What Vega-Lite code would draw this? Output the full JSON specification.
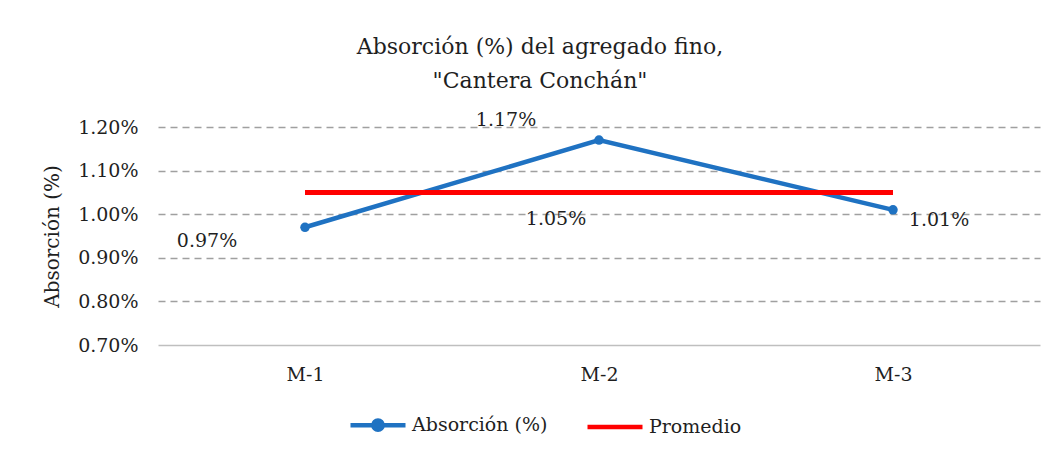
{
  "$schema": "https://vega.github.io/schema/vega-lite/v6.json",
  "autosize": {"type": "none"},
  "width": 882,
  "height": 218,
  "padding": {"left": 158, "top": 127, "right": 20, "bottom": 112},
  "background": "white",
  "config": {
    "font": "DejaVu Serif",
    "view": {"stroke": null},
    "text": {"font": "DejaVu Serif", "fontSize": 19, "color": "#1f1f1f"}
  },
  "title": {
    "text": ["Absorción (%) del agregado fino,", "\"Cantera Conchán\""],
    "font": "DejaVu Serif",
    "fontSize": 22,
    "fontWeight": "normal",
    "color": "#1f1f1f",
    "anchor": "middle",
    "dx": -59,
    "offset": 18,
    "lineHeight": 34
  },
  "data": {
    "values": [
      {"muestra": "M-1", "serie": "Absorción (%)", "valor": 0.0097},
      {"muestra": "M-2", "serie": "Absorción (%)", "valor": 0.0117},
      {"muestra": "M-3", "serie": "Absorción (%)", "valor": 0.0101},
      {"muestra": "M-1", "serie": "Promedio", "valor": 0.0105},
      {"muestra": "M-2", "serie": "Promedio", "valor": 0.0105},
      {"muestra": "M-3", "serie": "Promedio", "valor": 0.0105}
    ]
  },
  "encoding": {
    "x": {
      "field": "muestra", "type": "nominal",
      "scale": {"type": "point", "padding": 0.5},
      "axis": {
        "title": null, "labelAngle": 0, "ticks": false,
        "labelFont": "DejaVu Serif", "labelFontSize": 19, "labelColor": "#1f1f1f",
        "labelPadding": 20, "domainColor": "#bfbfbf", "domainWidth": 1.3
      }
    },
    "y": {
      "field": "valor", "type": "quantitative",
      "scale": {"domain": [0.007, 0.012], "nice": false, "zero": false},
      "axis": {
        "title": "Absorción (%)",
        "values": [0.007, 0.008, 0.009, 0.010, 0.011, 0.012],
        "format": ".2%",
        "ticks": false, "domain": false,
        "labelFont": "DejaVu Serif", "labelFontSize": 19, "labelColor": "#1f1f1f",
        "labelPadding": 20,
        "titleFont": "DejaVu Serif", "titleFontSize": 20, "titleFontWeight": "normal",
        "titleColor": "#1f1f1f", "titlePadding": 15,
        "gridColor": "#a0a0a0", "gridWidth": 1.3,
        "gridDash": {"condition": {"test": "datum.value <= 0.007", "value": []}, "value": [7, 5]},
        "gridOpacity": {"condition": {"test": "datum.value <= 0.007", "value": 0}, "value": 1}
      }
    }
  },
  "layer": [
    {
      "transform": [{"filter": "datum.serie === 'Absorción (%)'"}],
      "mark": {"type": "line", "strokeWidth": 4.5, "point": {"filled": true, "size": 90, "color": "#4472C4"}},
      "encoding": {
        "color": {
          "field": "serie", "type": "nominal",
          "scale": {"domain": ["Absorción (%)", "Promedio"], "range": ["#1f72c2", "#ff0000"]},
          "legend": {
            "title": null, "orient": "none", "direction": "horizontal",
            "legendX": 190, "legendY": 268,
            "labelFont": "DejaVu Serif", "labelFontSize": 19, "labelColor": "#1f1f1f",
            "symbolSize": 3025, "symbolStrokeWidth": 4.5, "columnPadding": 30, "labelOffset": 4,
            "symbolType": "M-1,0H-0.17A0.17,0.17 0 1,1 0.17,0A0.17,0.17 0 1,1 -0.17,0M0.17,0H1",
            "encode": {
              "symbols": {
                "update": {
                  "fill": {"signal": "datum.value === 'Promedio' ? 'transparent' : '#4472C4'"},
                  "shape": {"signal": "datum.value === 'Promedio' ? 'M-1,0H1' : 'M-1,0H-0.17A0.17,0.17 0 1,1 0.17,0A0.17,0.17 0 1,1 -0.17,0M0.17,0H1'"}
                }
              }
            }
          }
        }
      }
    },
    {
      "transform": [{"filter": "datum.serie === 'Promedio'"}],
      "mark": {"type": "line", "strokeWidth": 5},
      "encoding": {"color": {"field": "serie", "type": "nominal"}}
    },
    {
      "transform": [{"filter": "datum.serie === 'Absorción (%)' && datum.muestra === 'M-1'"}],
      "mark": {"type": "text", "dx": -98, "dy": 14},
      "encoding": {"text": {"field": "valor", "format": ".2%"}}
    },
    {
      "transform": [{"filter": "datum.serie === 'Absorción (%)' && datum.muestra === 'M-2'"}],
      "mark": {"type": "text", "dx": -93, "dy": -20},
      "encoding": {"text": {"field": "valor", "format": ".2%"}}
    },
    {
      "transform": [{"filter": "datum.serie === 'Absorción (%)' && datum.muestra === 'M-3'"}],
      "mark": {"type": "text", "dx": 46, "dy": 10},
      "encoding": {"text": {"field": "valor", "format": ".2%"}}
    },
    {
      "transform": [{"filter": "datum.serie === 'Promedio' && datum.muestra === 'M-2'"}],
      "mark": {"type": "text", "dx": -43, "dy": 27},
      "encoding": {"text": {"field": "valor", "format": ".2%"}}
    }
  ]
}
